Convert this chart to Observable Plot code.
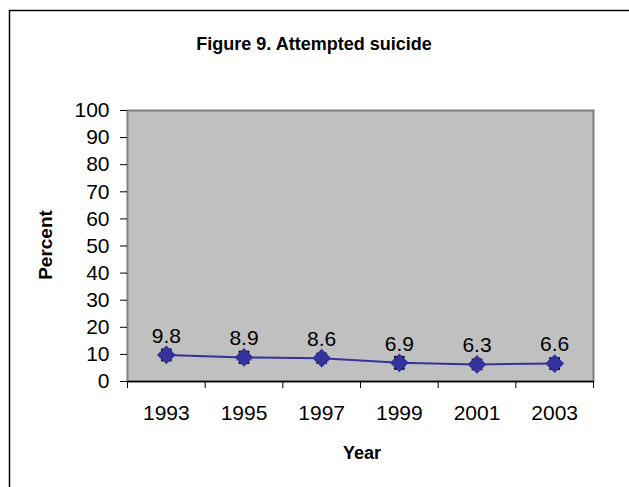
<!DOCTYPE html>
<html>
<head>
<meta charset="utf-8">
<script src="https://cdn.jsdelivr.net/npm/d3@7"></script>
<script src="https://cdn.jsdelivr.net/npm/@observablehq/plot@0.6"></script>
<style>
  html, body { margin: 0; padding: 0; background: #fff; }
  #chart svg { display: block; font-family: "Liberation Sans", Arial, sans-serif; }
</style>
</head>
<body>
<div id="chart"></div>
<script>
// Attempted suicide, percent of students, by survey year
const years = [1993, 1995, 1997, 1999, 2001, 2003];
const percent = [9.8, 8.9, 8.6, 6.9, 6.3, 6.6];
// 95% confidence interval bounds
const lower = [7.9, 6.9, 7.0, 4.8, 4.6, 4.7];
const upper = [11.7, 10.9, 10.2, 9.0, 8.0, 8.5];
const yTicks = [0, 10, 20, 30, 40, 50, 60, 70, 80, 90, 100];
// category boundaries for the x-axis tick marks
const xBounds = [1992, 1994, 1996, 1998, 2000, 2002, 2004];

const data = years.map((year, i) => ({year, value: percent[i], lo: lower[i], hi: upper[i]}));

const W = 629, H = 487;
const navy = "#333399";
const labelSize = 21;

// short horizontal line used as the error-bar cap
const capSymbol = {
  draw(context, size) {
    const w = Math.sqrt(size) * 0.5;
    context.moveTo(-w, 0);
    context.lineTo(w, 0);
  }
};

const chart = Plot.plot({
  width: W,
  height: H,
  marginLeft: 127,
  marginRight: 36,
  marginTop: 110,
  marginBottom: 106,
  style: {fontSize: labelSize + "px", fontFamily: "'Liberation Sans', Arial, sans-serif", color: "#000", background: "#fff"},
  x: {domain: [1992, 2004]},
  y: {domain: [0, 100]},
  marks: [
    Plot.frame({fill: "#c0c0c0", stroke: "#808080", strokeWidth: 2}),
    // y axis: outward ticks and labels
    Plot.axisY({ticks: yTicks, tickSize: 7, tickPadding: 11, label: null, stroke: "#000", fontSize: labelSize}),
    // x axis: tick marks at category boundaries, labels at category centres
    Plot.axisX({ticks: xBounds, tickSize: 7, tickFormat: () => "", label: null, stroke: "#000"}),
    Plot.axisX({ticks: years, tickSize: 0, tickPadding: 24, tickFormat: d => String(d), label: null, fontSize: labelSize}),
    Plot.ruleY([0], {stroke: "#000", strokeWidth: 1.5}),
    // error bars
    Plot.ruleX(data, {x: "year", y1: "lo", y2: "hi", stroke: "#000", strokeWidth: 1.5}),
    Plot.dot(data, {x: "year", y: "lo", symbol: capSymbol, r: 6, stroke: "#000", strokeWidth: 2.5}),
    Plot.dot(data, {x: "year", y: "hi", symbol: capSymbol, r: 6, stroke: "#000", strokeWidth: 2.5}),
    // trend line and markers
    Plot.line(data, {x: "year", y: "value", stroke: navy, strokeWidth: 2}),
    Plot.dot(data, {x: "year", y: "value", symbol: "diamond2", r: 7.5, fill: navy, stroke: navy}),
    // value labels
    Plot.text(data, {x: "year", y: "value", text: d => d.value.toFixed(1), dy: -19, fontSize: labelSize, fill: "#000"})
  ]
});

const svg = d3.select(chart);

// outer chart border
svg.append("rect")
  .attr("x", 9.5).attr("y", 10.5)
  .attr("width", W + 20).attr("height", H + 20)
  .attr("fill", "none").attr("stroke", "#000").attr("stroke-width", 1.5);

// title and axis titles
svg.append("text")
  .attr("x", 314).attr("y", 50)
  .attr("text-anchor", "middle")
  .attr("font-weight", "bold").attr("font-size", 18)
  .text("Figure 9. Attempted suicide");

svg.append("text")
  .attr("transform", "translate(52,245) rotate(-90)")
  .attr("text-anchor", "middle")
  .attr("font-weight", "bold").attr("font-size", 19)
  .text("Percent");

svg.append("text")
  .attr("x", 362).attr("y", 459)
  .attr("text-anchor", "middle")
  .attr("font-weight", "bold").attr("font-size", 18)
  .text("Year");

document.getElementById("chart").appendChild(chart);
</script>
</body>
</html>
